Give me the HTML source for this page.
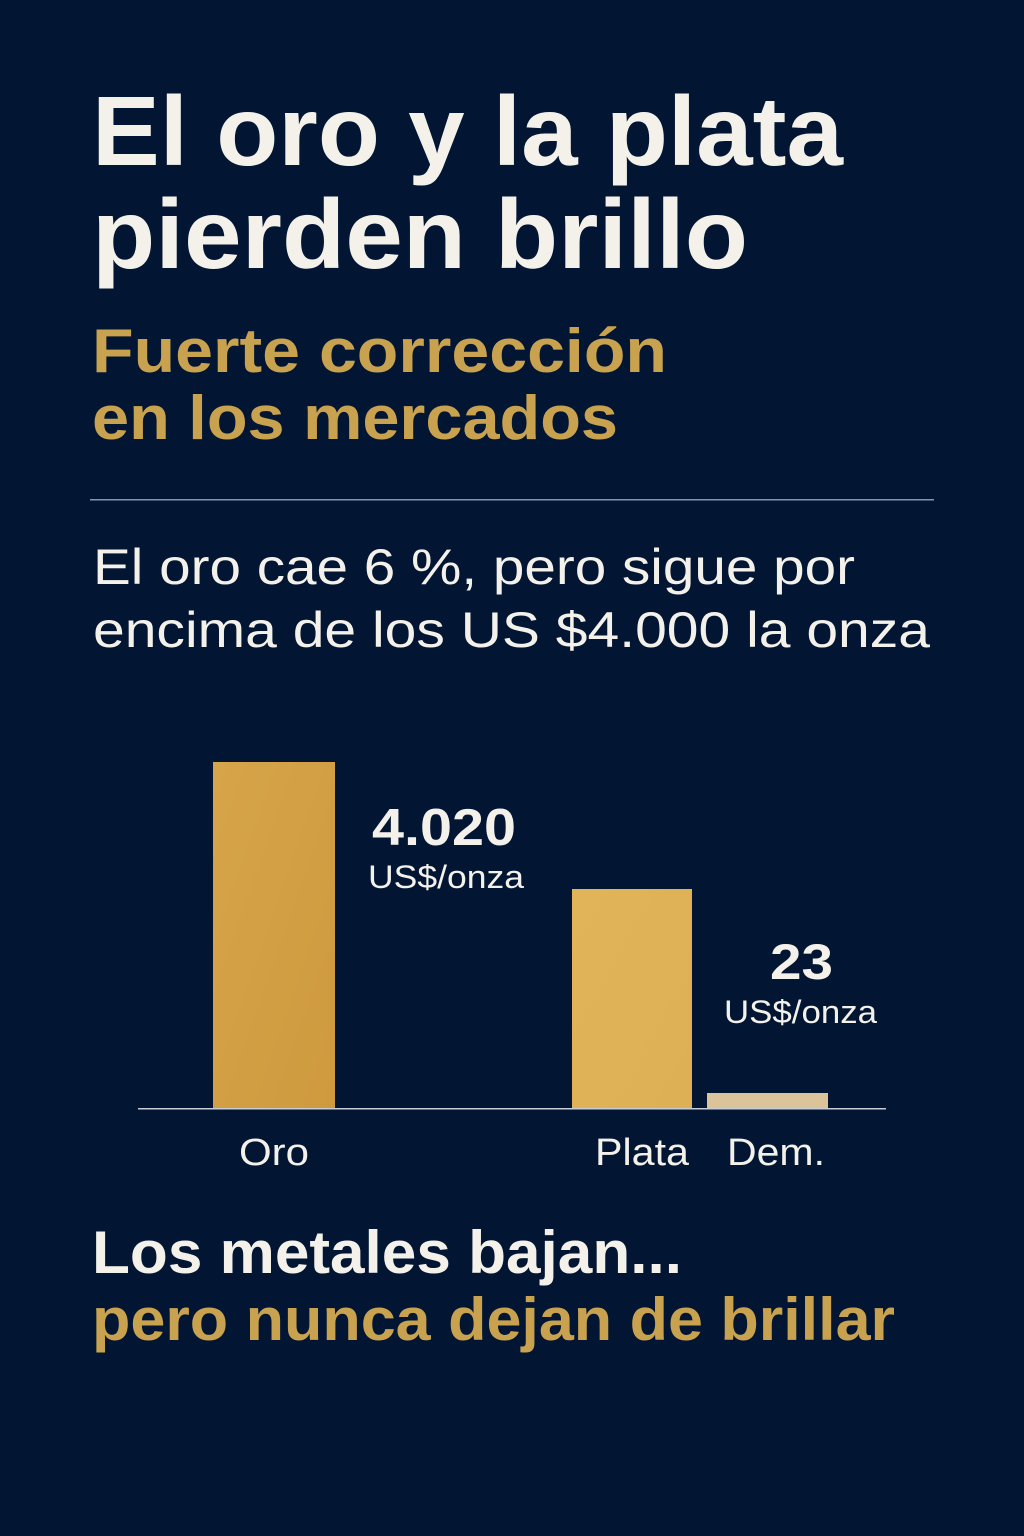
<!DOCTYPE html>
<html><head><meta charset="utf-8"><style>
html,body{margin:0;padding:0;background:#021634;}
svg{display:block}
text{font-family:"Liberation Sans",sans-serif;}
</style></head><body>
<svg width="1024" height="1536" viewBox="0 0 1024 1536" xmlns="http://www.w3.org/2000/svg">
<defs>
<linearGradient id="g1" x1="0" y1="0" x2="1" y2="1"><stop offset="0" stop-color="#d6a44a"/><stop offset="1" stop-color="#cf9a3e"/></linearGradient>
<linearGradient id="g2" x1="0" y1="0" x2="1" y2="1"><stop offset="0" stop-color="#e2b45a"/><stop offset="1" stop-color="#ddb055"/></linearGradient>
</defs>
<rect width="1024" height="1536" fill="#021634"/>
<text x="92" y="165" font-size="98" font-weight="bold" fill="#f4f1ea" textLength="751" lengthAdjust="spacingAndGlyphs">El oro y la plata</text>
<text x="92" y="268" font-size="98" font-weight="bold" fill="#f4f1ea" textLength="656" lengthAdjust="spacingAndGlyphs">pierden brillo</text>
<text x="92" y="372" font-size="62" font-weight="bold" fill="#c9a24f" textLength="575" lengthAdjust="spacingAndGlyphs">Fuerte corrección</text>
<text x="92" y="439" font-size="62" font-weight="bold" fill="#c9a24f" textLength="526" lengthAdjust="spacingAndGlyphs">en los mercados</text>
<rect x="90" y="499" width="844" height="1.5" fill="#8a93a6"/>
<text x="93" y="584" font-size="50" fill="#f4f1ea" textLength="762" lengthAdjust="spacingAndGlyphs">El oro cae 6 %, pero sigue por</text>
<text x="93" y="647" font-size="50" fill="#f4f1ea" textLength="837" lengthAdjust="spacingAndGlyphs">encima de los US $4.000 la onza</text>
<rect x="213" y="762" width="122" height="347" fill="url(#g1)"/>
<rect x="572" y="889" width="120" height="220" fill="url(#g2)"/>
<rect x="707" y="1093" width="121" height="16" fill="#dcc49a"/>
<rect x="138" y="1108" width="748" height="1.5" fill="#c8ccd4"/>
<text x="372" y="845" font-size="52" font-weight="bold" fill="#f4f1ea" textLength="144" lengthAdjust="spacingAndGlyphs">4.020</text>
<text x="368" y="888" font-size="32" fill="#f4f1ea" textLength="156" lengthAdjust="spacingAndGlyphs">US$/onza</text>
<text x="770" y="979" font-size="50" font-weight="bold" fill="#f4f1ea" textLength="63" lengthAdjust="spacingAndGlyphs">23</text>
<text x="724" y="1023" font-size="32" fill="#f4f1ea" textLength="153" lengthAdjust="spacingAndGlyphs">US$/onza</text>
<text x="239" y="1165" font-size="38" fill="#f4f1ea" textLength="70" lengthAdjust="spacingAndGlyphs">Oro</text>
<text x="595" y="1165" font-size="38" fill="#f4f1ea" textLength="94" lengthAdjust="spacingAndGlyphs">Plata</text>
<text x="727" y="1165" font-size="38" fill="#f4f1ea" textLength="98" lengthAdjust="spacingAndGlyphs">Dem.</text>
<text x="92" y="1273" font-size="60" font-weight="bold" fill="#f4f1ea" textLength="590" lengthAdjust="spacingAndGlyphs">Los metales bajan...</text>
<text x="92" y="1340" font-size="60" font-weight="bold" fill="#c9a24f" textLength="803" lengthAdjust="spacingAndGlyphs">pero nunca dejan de brillar</text>
</svg>
</body></html>
